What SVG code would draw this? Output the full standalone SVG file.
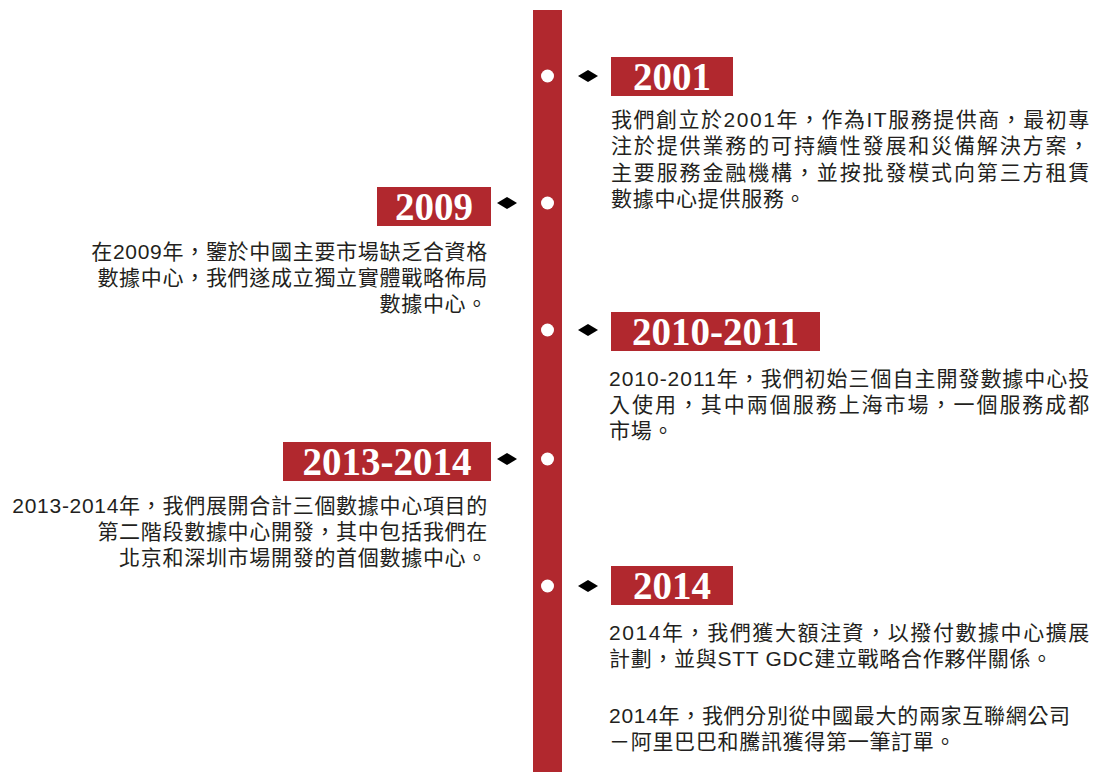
<svg xmlns="http://www.w3.org/2000/svg" width="1094" height="772" viewBox="0 0 1094 772" xml:lang="zh-Hant" lang="zh-Hant">
<style>
.bar{fill:#b1282e}
.box{fill:#b1282e}
.yr{font-family:"Liberation Serif","Times New Roman",serif;font-weight:bold;font-size:39px;fill:#fff;text-anchor:middle}
.t{font-family:"Liberation Sans","Noto Sans CJK TC",sans-serif;font-size:21px;fill:#231f20;letter-spacing:0.7px}
.r{text-anchor:end}
.dot{fill:#fff}
.dia{fill:#000}
</style>
<rect width="1094" height="772" fill="#fff"/>
<g id="timeline">
<rect class="bar" x="533" y="10" width="29" height="762"/>
<circle class="dot" cx="547.5" cy="76" r="6.5"/>
<circle class="dot" cx="547.5" cy="203" r="6.5"/>
<circle class="dot" cx="547.5" cy="330" r="6.5"/>
<circle class="dot" cx="547.5" cy="459" r="6.5"/>
<circle class="dot" cx="547.5" cy="586" r="6.5"/>
</g>
<g id="connectors">
<polygon class="dia" points="578,76 588,70 598,76 588,82"/>
<polygon class="dia" points="497,203 507,197 517,203 507,209"/>
<polygon class="dia" points="578,330 588,324 598,330 588,336"/>
<polygon class="dia" points="497,459 507,453 517,459 507,465"/>
<polygon class="dia" points="578,586 588,580 598,586 588,592"/>
</g>
<g id="node-2001">
<rect class="box" x="611" y="57" width="122" height="39"/>
<text class="yr" x="672" y="90">2001</text>
<text class="t" x="611" y="127" textLength="479" lengthAdjust="spacing">我們創立於2001年，作為IT服務提供商，最初專</text>
<text class="t" x="611" y="153" textLength="479" lengthAdjust="spacing">注於提供業務的可持續性發展和災備解決方案，</text>
<text class="t" x="611" y="180" textLength="479" lengthAdjust="spacing">主要服務金融機構，並按批發模式向第三方租賃</text>
<text class="t" x="611" y="206">數據中心提供服務。</text>
</g>
<g id="node-2009">
<rect class="box" x="377" y="187" width="114" height="39"/>
<text class="yr" x="434" y="220">2009</text>
<text class="t r" x="488" y="259">在2009年，鑒於中國主要市場缺乏合資格</text>
<text class="t r" x="488" y="285">數據中心，我們遂成立獨立實體戰略佈局</text>
<text class="t r" x="488" y="311">數據中心。</text>
</g>
<g id="node-2010-2011">
<rect class="box" x="611" y="312" width="209" height="39"/>
<text class="yr" x="715.5" y="345">2010-2011</text>
<text class="t" x="609" y="386" textLength="481" lengthAdjust="spacing">2010-2011年，我們初始三個自主開發數據中心投</text>
<text class="t" x="609" y="412" textLength="481" lengthAdjust="spacing">入使用，其中兩個服務上海市場，一個服務成都</text>
<text class="t" x="609" y="438">市場。</text>
</g>
<g id="node-2013-2014">
<rect class="box" x="283" y="442" width="208" height="39"/>
<text class="yr" x="387" y="475">2013-2014</text>
<text class="t r" x="488" y="513">2013-2014年，我們展開合計三個數據中心項目的</text>
<text class="t r" x="488" y="539">第二階段數據中心開發，其中包括我們在</text>
<text class="t r" x="488" y="565">北京和深圳市場開發的首個數據中心。</text>
</g>
<g id="node-2014">
<rect class="box" x="611" y="566" width="122" height="39"/>
<text class="yr" x="672" y="599">2014</text>
<text class="t" x="609" y="640" textLength="481" lengthAdjust="spacing">2014年，我們獲大額注資，以撥付數據中心擴展</text>
<text class="t" x="609" y="666">計劃，並與STT GDC建立戰略合作夥伴關係。</text>
<text class="t" x="609" y="723">2014年，我們分別從中國最大的兩家互聯網公司</text>
<text class="t" x="609" y="749">－阿里巴巴和騰訊獲得第一筆訂單。</text>
</g>
</svg>
